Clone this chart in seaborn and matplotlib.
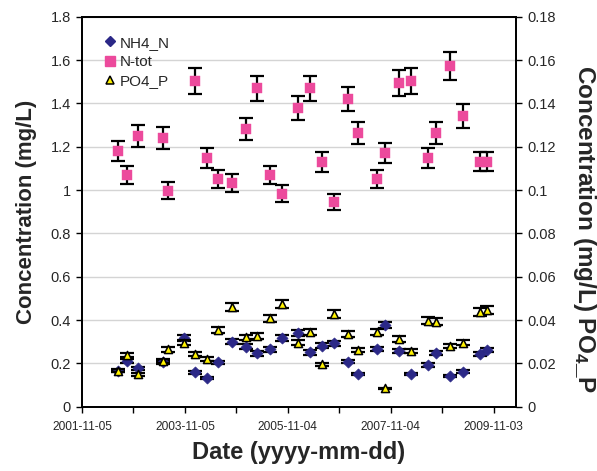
import numpy as np
import pandas as pd
import matplotlib
matplotlib.use("Agg")
import matplotlib.pyplot as plt
import matplotlib.dates as mdates
from matplotlib.ticker import FixedLocator, MultipleLocator, FuncFormatter
from matplotlib.lines import Line2D
import seaborn as sns

# ---------------- data ----------------
dates = ["2002-07-15", "2002-09-17", "2002-12-09", "2003-05-31", "2003-07-05",
         "2003-10-27", "2004-01-13", "2004-04-12", "2004-06-24", "2004-10-04",
         "2005-01-13", "2005-04-01", "2005-07-02", "2005-09-23", "2006-01-15",
         "2006-04-07", "2006-07-06", "2006-09-27", "2007-01-05", "2007-03-14",
         "2007-07-29", "2007-09-26", "2008-01-03", "2008-03-26", "2008-07-22",
         "2008-09-22", "2008-12-30", "2009-03-27", "2009-07-26", "2009-09-16"]

nh4_n = [0.165, 0.211, 0.177, 0.205, np.nan, 0.318, 0.159, 0.131, 0.205, 0.300,
         0.277, 0.246, 0.265, 0.317, 0.342, 0.251, 0.282, 0.293, 0.208, 0.151,
         0.266, 0.377, 0.258, 0.151, 0.192, 0.249, 0.142, 0.162, 0.243, 0.262]

n_tot = [1.180, 1.069, 1.251, 1.240, 0.997, np.nan, 1.502, 1.149, 1.051, 1.031,
         1.280, 1.469, 1.069, 0.982, 1.380, 1.469, 1.129, 0.946, 1.420, 1.262,
         1.051, 1.172, 1.493, 1.502, 1.149, 1.262, 1.572, 1.342, 1.131, 1.131]

po4_p = [0.0166, 0.0238, 0.0150, 0.0211, 0.0265, 0.0295, 0.0242, 0.0219, 0.0354, 0.0459,
         0.0320, 0.0326, 0.0408, 0.0473, 0.0295, 0.0343, 0.0196, 0.0428, 0.0334, 0.0262,
         0.0346, 0.0085, 0.0312, 0.0257, 0.0397, 0.0392, 0.0280, 0.0295, 0.0438, 0.0446]

rel_err = 0.04  # relative error bar size

major_ticks = ["2001-11-05", "2003-11-05", "2005-11-04", "2007-11-04", "2009-11-03"]
minor_ticks = ["2002-11-05", "2004-11-04", "2006-11-04", "2008-11-03"]
x_range = ["2001-11-05", "2010-04-10"]

labels = ["NH4_N", "N-tot", "PO4_P"]
c_nh4 = "#2B2887"
c_ntot = "#EC4A9C"
c_po4 = "#FFF200"

# ---------------- style ----------------
sns.set_theme(style="white")
plt.rcParams['font.family'] = ['Liberation Sans', 'DejaVu Sans']
plt.rcParams['mathtext.fontset'] = 'custom'
plt.rcParams['mathtext.rm'] = 'Liberation Sans:bold'
plt.rcParams['mathtext.it'] = 'Liberation Sans:bold'
plt.rcParams['mathtext.bf'] = 'Liberation Sans:bold'

df = pd.DataFrame({"date": pd.to_datetime(dates), "NH4_N": nh4_n,
                   "N-tot": n_tot, "PO4_P": po4_p})

fig = plt.figure(figsize=(5.97, 4.71), dpi=100)
ax = fig.add_axes([0.1374, 0.1365, 0.7269, 0.828])
ax2 = ax.twinx()

ebkw = dict(fmt="none", ecolor="black", elinewidth=1.6, capsize=4.8, capthick=1.6)

# primary axis: NH4_N and N-tot
d1 = df.dropna(subset=["NH4_N"])
ax.errorbar(d1["date"], d1["NH4_N"], yerr=d1["NH4_N"] * rel_err, zorder=2, **ebkw)
d2 = df.dropna(subset=["N-tot"])
ax.errorbar(d2["date"], d2["N-tot"], yerr=d2["N-tot"] * rel_err, zorder=2, **ebkw)
sns.scatterplot(data=d1, x="date", y="NH4_N", marker="D", s=32, color=c_nh4,
                edgecolor=c_nh4, linewidth=0.5, ax=ax, zorder=3, legend=False)
sns.scatterplot(data=d2, x="date", y="N-tot", marker="s", s=50, color=c_ntot,
                edgecolor=c_ntot, linewidth=0.3, ax=ax, zorder=3, legend=False)

# secondary axis: PO4_P
ax2.errorbar(df["date"], df["PO4_P"], yerr=df["PO4_P"] * rel_err, zorder=2, **ebkw)
sns.scatterplot(data=df, x="date", y="PO4_P", marker="^", s=34, color=c_po4,
                edgecolor="black", linewidth=1.1, ax=ax2, zorder=3, legend=False)

# axes limits / ticks
ax.set_xlim(pd.to_datetime(x_range[0]), pd.to_datetime(x_range[1]))
ax.set_ylim(0, 1.8)
ax2.set_ylim(0, 0.18)
ax.xaxis.set_major_locator(FixedLocator(mdates.date2num(pd.to_datetime(major_ticks))))
ax.xaxis.set_minor_locator(FixedLocator(mdates.date2num(pd.to_datetime(minor_ticks))))
ax.xaxis.set_major_formatter(mdates.DateFormatter("%Y-%m-%d"))
ax.yaxis.set_major_locator(MultipleLocator(0.2))
ax2.yaxis.set_major_locator(MultipleLocator(0.02))
fmt = FuncFormatter(lambda v, p: f"{v:.4g}")
ax.yaxis.set_major_formatter(fmt)
ax2.yaxis.set_major_formatter(fmt)

ax.yaxis.grid(True, color="#d4d4d4", linewidth=1.0)
ax.xaxis.grid(False)
ax2.grid(False)
ax.set_axisbelow(True)

ax.tick_params(axis="x", which="both", bottom=True, direction="out", length=4,
               width=1, color="black", labelsize=8.6, pad=6)
ax.tick_params(axis="y", left=True, direction="out", length=4, width=1,
               color="black", labelsize=10.5, pad=4)
ax2.tick_params(axis="y", right=True, direction="out", length=4, width=1,
                color="black", labelsize=10.5, pad=4)

for a in (ax, ax2):
    for s in a.spines.values():
        s.set_color("black")
        s.set_linewidth(1.3)

ax.set_xlabel("Date (yyyy-mm-dd)", fontsize=17, fontweight="bold", labelpad=6)
ax.set_ylabel("Concentration (mg/L)", fontsize=16, fontweight="bold", labelpad=10)
ax2.set_ylabel("Concentration (mg/L) PO$_4$_P", fontsize=17.5, fontweight="bold",
               rotation=270, va="center", ha="center")
ax2.yaxis.set_label_coords(1.158, 0.455)

# legend
handles = [
    Line2D([], [], linestyle="none", marker="D", markersize=5.2, color=c_nh4),
    Line2D([], [], linestyle="none", marker="s", markersize=7, color=c_ntot),
    Line2D([], [], linestyle="none", marker="^", markersize=6, markerfacecolor=c_po4,
           markeredgecolor="black", markeredgewidth=1.1),
]
ax2.legend(handles, labels, loc="upper left", bbox_to_anchor=(0.03, 0.975),
           frameon=False, fontsize=11, handlelength=0.8, handletextpad=0.2,
           labelspacing=0.35, borderaxespad=0.2)

fig.savefig("out.png", dpi=100)
